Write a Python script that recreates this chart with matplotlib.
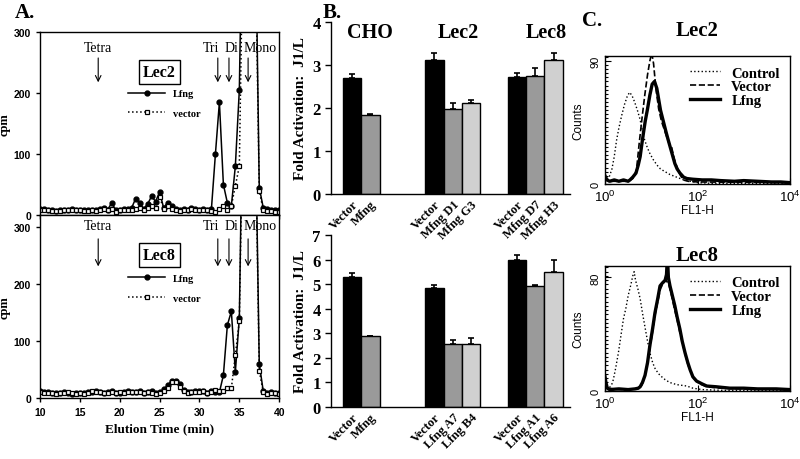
import matplotlib
matplotlib.use("Agg")
import matplotlib.pyplot as plt
import numpy as np
from matplotlib.ticker import MultipleLocator

SERIF = "Liberation Serif"
SANS = "Liberation Sans"
plt.rcParams.update({
    'font.family': SERIF,
    'font.weight': 'bold',
    'axes.labelweight': 'bold',
    'axes.titleweight': 'bold',
    'axes.linewidth': 1.0,
})

# ---------------- panel A: elution profiles ----------------
time_min = np.arange(10, 40.01, 0.5)
lec2_lfng = [10, 10, 9, 8, 7, 8, 9, 9, 10, 9, 9, 8, 8, 9, 8, 10, 12, 9, 20, 8,
             9, 10, 10, 12, 27, 20, 10, 18, 31, 22, 38, 12, 20, 14, 10, 8, 10, 9, 12, 10,
             9, 10, 9, 10, 100, 185, 50, 20, 15, 80, 205, 600, 900, 900, 500, 45, 12, 10, 9, 8, 8]
lec2_vector = [8, 9, 8, 7, 6, 7, 8, 8, 9, 8, 8, 7, 7, 8, 7, 8, 10, 8, 10, 5,
               8, 9, 9, 8, 10, 12, 8, 12, 15, 12, 30, 10, 15, 10, 8, 7, 9, 8, 10, 8,
               8, 9, 8, 7, 5, 10, 14, 8, 15, 48, 80, 500, 900, 900, 450, 40, 8, 6, 6, 5, 5]
lec8_lfng = [12, 11, 10, 8, 9, 8, 10, 9, 7, 9, 8, 8, 10, 11, 12, 10, 8, 11, 12, 9,
             9, 11, 13, 11, 10, 12, 9, 10, 13, 8, 10, 15, 22, 30, 30, 25, 14, 10, 11, 12,
             12, 13, 8, 12, 10, 10, 40, 128, 152, 46, 140, 600, 900, 900, 500, 60, 12, 8, 10, 9, 8]
lec8_vector = [10, 9, 8, 9, 7, 9, 8, 10, 8, 7, 9, 7, 9, 12, 10, 11, 9, 8, 10, 8,
               10, 9, 11, 10, 11, 10, 8, 11, 9, 7, 9, 12, 18, 28, 28, 20, 12, 9, 10, 10,
               11, 12, 9, 10, 14, 13, 12, 17, 17, 75, 135, 550, 900, 900, 480, 48, 10, 7, 9, 8, 7]
peak_names = ["Tetra", "Tri", "Di", "Mono"]
peak_arrow_t = [17.3, 32.3, 33.7, 36.1]
peak_text_t = [17.3, 31.4, 34.0, 37.6]

# ---------------- panel B: fold activation ----------------
bar_pos = [0, 1, 4.5, 5.5, 6.5, 9, 10, 11]
colors_b = ['black', '#9a9a9a', 'black', '#9a9a9a', '#d0d0d0', 'black', '#9a9a9a', '#d0d0d0']
top_vals = [2.70, 1.83, 3.12, 1.97, 2.12, 2.72, 2.75, 3.12]
top_err = [0.10, 0.03, 0.15, 0.15, 0.07, 0.10, 0.18, 0.15]
top_labels = ["Vector", "Mfng", "Vector", "Mfng D1", "Mfng G3", "Vector", "Mfng D7", "Mfng H3"]
bot_vals = [5.30, 2.88, 4.85, 2.57, 2.58, 6.00, 4.92, 5.50]
bot_err = [0.15, 0.02, 0.10, 0.15, 0.22, 0.18, 0.05, 0.48]
bot_labels = ["Vector", "Mfng", "Vector", "Lfng A7", "Lfng B4", "Vector", "Lfng A1", "Lfng A6"]
group_names = ["CHO", "Lec2", "Lec8"]
group_x = [1.0, 5.8, 10.6]

# ---------------- panel C: FACS histograms (decade exponent, counts) ----------------
c2_ctrl_e = [0.0, 0.03, 0.06, 0.1, 0.15, 0.2, 0.25, 0.3, 0.36, 0.42, 0.48, 0.53, 0.58, 0.64, 0.7,
             0.76, 0.83, 0.9, 0.96, 1.04, 1.12, 1.2, 1.3, 1.4, 1.55, 1.7, 1.85, 2.0, 2.3, 4.0]
c2_ctrl_n = [8, 5, 3, 6, 11, 20, 32, 41, 50, 58, 64, 67, 65, 60, 54,
             47, 35, 28, 23, 18, 14, 11, 9, 7, 5, 3, 2, 1, 0.5, 0.5]
c2_vec_e = [0.0, 0.05, 0.1, 0.3, 0.5, 0.6, 0.68, 0.74, 0.8, 0.86, 0.92, 0.97, 1.01, 1.05, 1.1,
            1.16, 1.22, 1.3, 1.38, 1.44, 1.5, 1.55, 1.62, 1.69, 1.8, 2.0, 4.0]
c2_vec_n = [6, 3, 2, 2, 2, 4, 10, 30, 48, 65, 80, 90, 96, 88, 70,
            55, 46, 38, 30, 27, 18, 13, 7, 3, 2, 1.5, 1]
c2_lf_e = [0.0, 0.04, 0.1, 0.2, 0.3, 0.4, 0.5, 0.54, 0.6, 0.67, 0.72, 0.76, 0.8, 0.83, 0.87, 0.92,
           0.97, 1.02, 1.07, 1.12, 1.16, 1.2, 1.26, 1.32, 1.36, 1.41, 1.46, 1.51, 1.56, 1.62, 1.7,
           1.77, 1.9, 2.1, 2.3, 2.5, 2.8, 3.0, 3.3, 3.6, 3.8, 4.0]
c2_lf_n = [6, 3, 2, 3, 2, 3, 2, 3, 5, 8, 14, 20, 30, 37, 46, 55,
           65, 73, 75, 70, 62, 54, 46, 38, 33, 27, 21, 15, 11, 8, 5,
           4, 3.5, 3, 3, 2.5, 2, 2.5, 2, 1.5, 1.5, 1]
c8_ctrl_e = [0.0, 0.02, 0.05, 0.08, 0.11, 0.15, 0.18, 0.23, 0.29, 0.34, 0.4, 0.45, 0.5, 0.56, 0.6,
             0.63, 0.66, 0.71, 0.76, 0.81, 0.87, 0.92, 0.97, 1.03, 1.08, 1.14, 1.19, 1.3, 1.4, 1.55,
             1.77, 1.9, 2.1, 2.5, 4.0]
c8_ctrl_n = [12, 8, 3, 1, 3, 5, 8, 16, 27, 38, 51, 58, 67, 75, 81,
             84, 78, 72, 65, 55, 44, 35, 27, 20, 16, 13, 11, 8, 6, 4.5,
             3.5, 2, 1, 0.5, 0.5]
c8_vec_e = [0.0, 0.05, 0.3, 0.7, 0.78, 0.84, 0.9, 0.96, 1.02, 1.08, 1.14, 1.2, 1.26, 1.32, 1.38,
            1.44, 1.5, 1.56, 1.62, 1.68, 1.74, 1.8, 1.86, 1.94, 2.05, 2.2, 2.5, 3.0, 4.0]
c8_vec_n = [8, 2, 1, 1.5, 3, 8, 16, 28, 40, 53, 63, 72, 76, 78, 75,
            67, 58, 50, 41, 33, 25, 18, 13, 8, 5, 3, 2, 1.5, 1]
c8_lf_e = [0.0, 0.02, 0.05, 0.1, 0.3, 0.5, 0.65, 0.72, 0.76, 0.81, 0.865, 0.92, 0.97, 1.03, 1.08,
           1.14, 1.19, 1.24, 1.3, 1.33, 1.35, 1.37, 1.405, 1.45, 1.51, 1.56, 1.62, 1.67, 1.73, 1.79,
           1.84, 1.9, 1.98, 2.1, 2.2, 2.4, 2.7, 3.0, 3.3, 3.7, 4.0]
c8_lf_n = [10, 6, 2, 1, 1.5, 1, 1.5, 2, 3, 6, 11, 20, 32, 44, 55,
           65, 74, 76, 78, 82, 95, 80, 74, 68, 60, 52, 43.5, 35, 27, 20,
           15, 10, 7, 5, 3.5, 3, 2, 2, 1.5, 1.5, 1]

fig = plt.figure(figsize=(8, 4.6), dpi=100)

# ---------- A ----------
axA1 = fig.add_axes([0.05, 0.5304, 0.299, 0.3978])
axA2 = fig.add_axes([0.05, 0.1326, 0.299, 0.3978])
for ax, lf, vec, name, top, lab_y, arr_y in [
        (axA1, lec2_lfng, lec2_vector, "Lec2", 300, 275, (262, 213)),
        (axA2, lec8_lfng, lec8_vector, "Lec8", 321, 303, (284, 226))]:
    ax.plot(time_min, lf, '-', color='black', lw=1.1, marker='o', ms=3.5,
            mfc='black', mec='black', label="Lfng")
    ax.plot(time_min, vec, ':', color='black', lw=1.1, marker='s', ms=3.5,
            mfc='white', mec='black', mew=0.9, label="vector")
    ax.set_xlim(10, 40)
    ax.set_ylim(0, top)
    ax.set_yticks([0, 100, 200, 300])
    ax.set_xticks(range(10, 41, 5))
    ax.tick_params(direction='out', length=3, width=1, labelsize=7.5)
    for t in ax.get_xticklabels() + ax.get_yticklabels():
        t.set_family(SANS)
        t.set_weight('bold')
    ax.set_ylabel("cpm", fontsize=9, labelpad=2)
    for nm, at, tt in zip(peak_names, peak_arrow_t, peak_text_t):
        ax.annotate("", xy=(at, arr_y[1]), xytext=(at, arr_y[0]),
                    arrowprops=dict(arrowstyle='->', color='black', lw=0.8))
        ax.text(tt, lab_y, nm, ha='center', va='center', fontsize=10, weight='normal')
    ax.text(25.0, 234 if name == "Lec2" else 251, name, ha='center', va='center',
            fontsize=11.5, bbox=dict(boxstyle='square,pad=0.25', fc='white', ec='black', lw=1))
    ax.legend(loc='upper left', bbox_to_anchor=(0.33, 0.74 if name == "Lec2" else 0.73),
              frameon=False, fontsize=7.5, handlelength=3.5, labelspacing=1.0)
axA1.tick_params(labelbottom=False)
axA2.set_xlabel("Elution Time (min)", fontsize=9.5)
fig.text(0.031, 0.972, "A.", fontsize=15, ha='center', va='center')

# ---------- B ----------
axB1 = fig.add_axes([0.41375, 0.576, 0.29875, 0.3739])
axB2 = fig.add_axes([0.41375, 0.113, 0.29875, 0.3739])
axB2.patch.set_visible(False)
for ax, vals, err, labels, ymax in [(axB1, top_vals, top_err, top_labels, 4),
                                    (axB2, bot_vals, bot_err, bot_labels, 7)]:
    ax.bar(bar_pos, vals, width=1.0, color=colors_b, edgecolor='black', lw=1.0)
    ax.errorbar(bar_pos, vals, yerr=[np.zeros(len(err)), err], fmt='none',
                ecolor='black', elinewidth=1.2, capsize=2.5, capthick=1.2)
    ax.set_xlim(-1.15, 11.9)
    ax.set_ylim(0, ymax)
    ax.set_yticks(range(0, ymax + 1))
    ax.spines['top'].set_visible(False)
    ax.spines['right'].set_visible(False)
    ax.set_xticks(bar_pos)
    ax.set_xticklabels(labels, rotation=45, ha='right', rotation_mode='anchor', fontsize=9)
    ax.tick_params(axis='x', length=0, pad=3)
    ax.tick_params(axis='y', direction='out', length=4, width=1, labelsize=12)
    ax.set_ylabel("Fold Activation:  J1/L", fontsize=11, labelpad=4)
for nm, gx in zip(group_names, group_x):
    axB1.text(gx, 3.78, nm, ha='center', va='center', fontsize=14.5)
fig.text(0.415, 0.972, "B.", fontsize=15, ha='center', va='center')

# ---------- C ----------
axC1 = fig.add_axes([0.75625, 0.5978, 0.23125, 0.278])
axC2 = fig.add_axes([0.75625, 0.1478, 0.23125, 0.2717])
for ax, ce, cn, ve, vn, le, ln, top, ytk, title, tpad in [
        (axC1, c2_ctrl_e, c2_ctrl_n, c2_vec_e, c2_vec_n, c2_lf_e, c2_lf_n, 93.5, 90, "Lec2", 15),
        (axC2, c8_ctrl_e, c8_ctrl_n, c8_vec_e, c8_vec_n, c8_lf_e, c8_lf_n, 88, 80, "Lec8", 4)]:
    ax.plot(10 ** np.array(ce), cn, ':', color='black', lw=1.0, label="Control")
    ax.plot(10 ** np.array(ve), vn, '--', color='black', lw=1.2, label="Vector")
    ax.plot(10 ** np.array(le), ln, '-', color='black', lw=2.4, label="Lfng")
    ax.set_xscale('log')
    ax.set_xlim(1, 1e4)
    ax.set_ylim(0, top)
    ax.set_yticks([0, ytk])
    ax.yaxis.set_minor_locator(MultipleLocator(3))
    ax.tick_params(which='both', direction='in', width=0.8)
    ax.tick_params(which='major', length=4)
    ax.tick_params(which='minor', length=2)
    ax.tick_params(axis='y', labelrotation=90, labelsize=8)
    ax.tick_params(axis='x', labelsize=9.5)
    for t in ax.get_xticklabels() + ax.get_yticklabels():
        t.set_family(SANS)
        t.set_weight('normal')
    for lbl in ax.get_yticklabels():
        lbl.set_va('center')
    ax.set_ylabel("Counts", family=SANS, weight='normal', fontsize=8.5, labelpad=4)
    ax.set_xlabel("FL1-H", family=SANS, weight='normal', fontsize=8.5, labelpad=0)
    ax.set_title(title, fontsize=15, pad=tpad)
    ax.legend(loc='upper right', frameon=False, fontsize=10.5, handlelength=2.0,
              labelspacing=0.05, borderaxespad=0.3, handletextpad=0.8)
fig.text(0.74, 0.955, "C.", fontsize=15, ha='center', va='center')

fig.savefig("out.png", dpi=100)
